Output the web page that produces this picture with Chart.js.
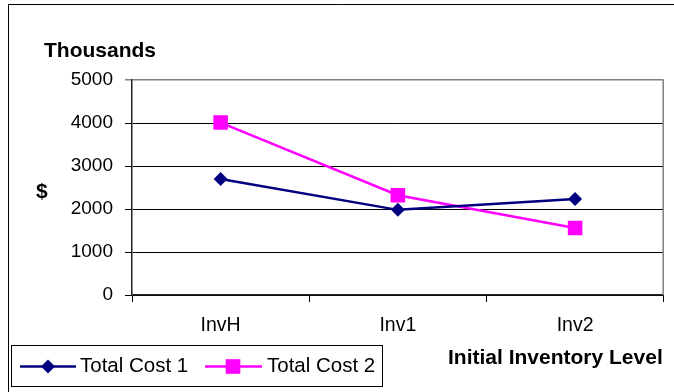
<!DOCTYPE html>
<html>
<head>
<meta charset="utf-8">
<script src="https://cdn.jsdelivr.net/npm/chart.js@4"></script>
<style>
  html, body { margin: 0; padding: 0; background: #fff; }
  #wrap { width: 674px; height: 392px; position: relative; }
</style>
</head>
<body>
<div id="wrap"><canvas id="c" width="674" height="392"></canvas></div>
<script>
// Inventory cost comparison, in thousands of dollars
const categories = ['InvH', 'Inv1', 'Inv2'];
const totalCost1 = [2700, 1980, 2230];
const totalCost2 = [4010, 2320, 1560];
const yTicks = [0, 1000, 2000, 3000, 4000, 5000];
const seriesNames = ['Total Cost 1', 'Total Cost 2'];

const FONT = "'Liberation Sans', Arial, sans-serif";
const NAVY = '#000080';
const MAGENTA = '#FF00FF';

// Frame, axis captions and boxed legend drawn on the canvas
const decor = {
  id: 'decor',
  beforeDatasetsDraw(chart) {
    const { ctx, chartArea: a } = chart;
    ctx.save();
    ctx.strokeStyle = '#808080';
    ctx.lineWidth = 1.5;
    ctx.beginPath();
    ctx.moveTo(a.right - 0.5, a.top);
    ctx.lineTo(a.right - 0.5, a.bottom);
    ctx.stroke();
    ctx.restore();
  },
  afterDraw(chart) {
    const { ctx } = chart;
    ctx.save();
    // outer chart border
    ctx.strokeStyle = '#000';
    ctx.lineWidth = 1;
    ctx.beginPath();
    ctx.moveTo(8.5, 400);
    ctx.lineTo(8.5, 4.5);
    ctx.lineTo(700, 4.5);
    ctx.stroke();

    ctx.fillStyle = '#000';
    ctx.textAlign = 'left';
    ctx.textBaseline = 'alphabetic';
    ctx.font = 'bold 21px ' + FONT;
    ctx.fillText('Thousands', 44, 57);
    ctx.fillText('$', 36, 198);
    ctx.fillText('Initial Inventory Level', 448, 364);

    // legend box
    ctx.lineWidth = 1;
    ctx.strokeStyle = '#000';
    ctx.strokeRect(11.5, 345.5, 371, 41);

    const ly = 366.5;
    // Total Cost 1 entry
    ctx.strokeStyle = NAVY;
    ctx.lineWidth = 2.5;
    ctx.beginPath(); ctx.moveTo(20, ly); ctx.lineTo(76, ly); ctx.stroke();
    ctx.fillStyle = NAVY;
    ctx.beginPath();
    ctx.moveTo(48, ly - 7); ctx.lineTo(55, ly); ctx.lineTo(48, ly + 7); ctx.lineTo(41, ly);
    ctx.closePath(); ctx.fill();
    // Total Cost 2 entry
    ctx.strokeStyle = MAGENTA;
    ctx.beginPath(); ctx.moveTo(205, ly); ctx.lineTo(262, ly); ctx.stroke();
    ctx.fillStyle = MAGENTA;
    ctx.fillRect(233 - 7.3, ly - 7.3, 14.6, 14.6);

    ctx.fillStyle = '#000';
    ctx.font = '20.5px ' + FONT;
    ctx.fillText(seriesNames[0], 80, 372);
    ctx.fillText(seriesNames[1], 267, 372);
    ctx.restore();
  }
};

new Chart(document.getElementById('c'), {
  type: 'line',
  data: {
    labels: categories,
    datasets: [
      {
        label: seriesNames[0],
        data: totalCost1,
        borderColor: NAVY,
        backgroundColor: NAVY,
        borderWidth: 2.5,
        pointStyle: 'rectRot',
        pointRadius: 7,
        pointBorderWidth: 0,
        tension: 0,
        fill: false
      },
      {
        label: seriesNames[1],
        data: totalCost2,
        borderColor: MAGENTA,
        backgroundColor: MAGENTA,
        borderWidth: 2.5,
        pointStyle: 'rect',
        pointRadius: 10.3,
        pointBorderWidth: 0,
        tension: 0,
        fill: false
      }
    ]
  },
  options: {
    responsive: false,
    animation: false,
    layout: { padding: { left: 0, top: 80, right: 8, bottom: 0 } },
    plugins: { legend: { display: false }, tooltip: { enabled: false } },
    scales: {
      x: {
        type: 'category',
        offset: true,
        afterFit(scale) { scale.height = 97; },
        grid: {
          offset: true,
          drawOnChartArea: false,
          drawTicks: true,
          tickLength: 7,
          color: '#000'
        },
        border: { display: true, color: '#222', width: 1.5 },
        ticks: {
          color: '#000',
          font: { family: FONT, size: 19.5 },
          padding: 12,
          maxRotation: 0
        }
      },
      y: {
        min: 0,
        max: 5000,
        afterFit(scale) { scale.width = 132; },
        afterBuildTicks(scale) { scale.ticks = yTicks.map(v => ({ value: v })); },
        grid: {
          color: ctx => (ctx.tick && ctx.tick.value === 5000 ? '#808080' : '#000'),
          lineWidth: ctx => (ctx.tick && ctx.tick.value === 5000 ? 1.5 : 1),
          tickLength: 7
        },
        border: { display: true, color: '#222', width: 1.5 },
        ticks: {
          color: '#000',
          font: { family: FONT, size: 19 },
          padding: 12,
          callback: v => String(v)
        }
      }
    }
  },
  plugins: [decor]
});
</script>
</body>
</html>
